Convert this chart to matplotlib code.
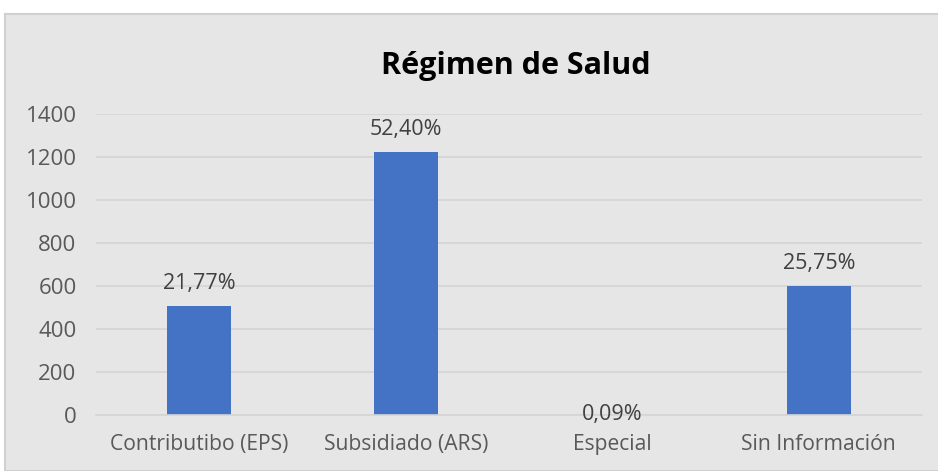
import matplotlib.pyplot as plt
from matplotlib.patches import Rectangle

categorias = ["Contributibo (EPS)", "Subsidiado (ARS)", "Especial", "Sin Información"]
personas = [508, 1223, 2, 601]
porcentajes = [0.2177, 0.5240, 0.0009, 0.2575]
etiquetas = ["21,77%", "52,40%", "0,09%", "25,75%"]
y_ticks = [0, 200, 400, 600, 800, 1000, 1200, 1400]

plt.rcParams['font.family'] = ['Open Sans', 'DejaVu Sans']

fondo = "#E7E6E6"
fig = plt.figure(figsize=(9.38, 4.71), dpi=100)
fig.patch.set_facecolor("white")
fig.patches.append(Rectangle((5 / 938, 0), 1, 1 - 14 / 471, transform=fig.transFigure,
                             facecolor=fondo, edgecolor="#D0D0D0", linewidth=1.5, zorder=0))

ax = fig.add_axes([96 / 938, 56 / 471, 826 / 938, 301 / 471])
ax.set_zorder(2)
ax.set_facecolor(fondo)
ax.patch.set_alpha(0)

x = range(len(categorias))
ax.bar(x, personas, width=0.31, color="#4472C4", zorder=2)
# serie de porcentaje apilada encima (casi invisible)
ax.bar(x, porcentajes, bottom=personas, width=0.31, color="#ED7D31", zorder=2)

for i, (v, t) in enumerate(zip(personas, etiquetas)):
    off = 16 if v > 50 else 0
    ax.annotate(t, (i, v), xytext=(0, off), textcoords="offset points",
                ha="center", va="center", fontsize=15.5, color="#404040")

ax.set_xlim(-0.5, 3.5)
ax.set_ylim(0, 1400)
ax.set_yticks(y_ticks)
ax.set_xticks(list(x))
ax.set_xticklabels(categorias)
ax.tick_params(axis="both", length=0, labelcolor="#595959")
ax.tick_params(axis="y", pad=14, labelsize=16)
ax.tick_params(axis="x", pad=14, labelsize=15.2)
ax.grid(axis="y", color="#D4D4D4", linewidth=1.2, zorder=0)
for s in ["top", "right", "left"]:
    ax.spines[s].set_visible(False)
ax.spines["bottom"].set_color("#D4D4D4")
ax.spines["bottom"].set_linewidth(1.2)

fig.text(516 / 938, 1 - 66 / 471, "Régimen de Salud", ha="center", va="center",
         fontsize=22, fontweight="bold", color="black", zorder=3)

fig.savefig("out.png", dpi=100, facecolor=fig.get_facecolor())
